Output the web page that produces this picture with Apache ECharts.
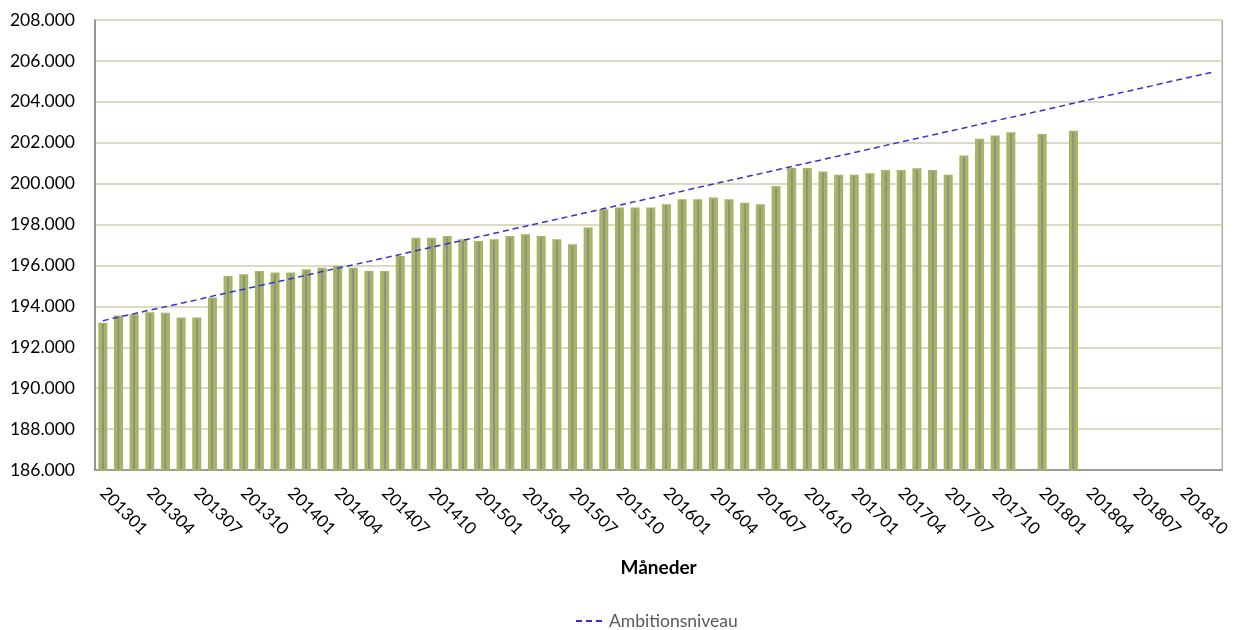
<!DOCTYPE html>
<html>
<head>
    <meta http-equiv="Content-Type" content="text/html; charset=UTF-8">
    <title>Måneder</title>
    <script src="https://cdn.jsdelivr.net/npm/echarts@6/dist/echarts.min.js"></script>
</head>
<body style="margin:0;background:#fff;">
    <div id="main" style="width:1233px;height:630px;"></div>

    <script type="text/javascript">
        // kategorier: 201301 .. 201812
        var maaneder = [];
        ['2013', '2014', '2015', '2016', '2017', '2018'].forEach(function (aar) {
            ['01', '02', '03', '04', '05', '06', '07', '08', '09', '10', '11', '12'].forEach(function (m) {
                maaneder.push(aar + m);
            });
        });

        // faktisk antal (søjler), null = ingen data
        var faktisk = [
            193200, 193550, 193610, 193710, 193690, 193450, 193450, 194430, 195490, 195570, 195730, 195650,
            195650, 195810, 195890, 195980, 195890, 195730, 195730, 196460, 197350, 197360, 197440, 197280,
            197200, 197280, 197440, 197520, 197440, 197280, 197040, 197850, 198750, 198830, 198830, 198830,
            198990, 199240, 199240, 199320, 199240, 199070, 198990, 199890, 200780, 200770, 200590, 200430,
            200430, 200510, 200670, 200670, 200750, 200670, 200430, 201370, 202190, 202350, 202510, null,
            202430, null, 202590, null, null, null, null, null, null, null, null, null
        ];

        // Ambitionsniveau (stiplet linje)
        var ambition = [
            193300, 193470, 193640, 193820, 193980, 194150, 194320, 194500, 194670, 194840, 195010, 195180,
            195350, 195520, 195700, 195870, 196030, 196200, 196370, 196540, 196720, 196890, 197060, 197230,
            197400, 197570, 197750, 197920, 198090, 198260, 198430, 198600, 198780, 198950, 199120, 199290,
            199460, 199630, 199810, 199980, 200150, 200320, 200490, 200660, 200840, 201010, 201180, 201350,
            201520, 201690, 201870, 202040, 202210, 202380, 202550, 202720, 202900, 203070, 203240, 203410,
            203580, 203750, 203930, 204100, 204270, 204440, 204610, 204780, 204960, 205130, 205300, 205470
        ];

        function tusind(v) {
            return String(v).replace(/\B(?=(\d{3})+(?!\d))/g, '.');
        }

        var font = 'Lato, "Open Sans", sans-serif';
        var myChart = echarts.init(document.getElementById('main'));
        myChart.setOption({
            animation: false,
            textStyle: { fontFamily: font },
            grid: {
                left: 95, right: 9, top: 20, bottom: 160,
                show: true, borderColor: '#868686', borderWidth: 1
            },
            legend: {
                bottom: -5,
                left: 570,
                data: ['Ambitionsniveau'],
                itemWidth: 28,
                itemHeight: 2,
                itemGap: 8,
                textStyle: { color: '#595959', fontSize: 17.5, fontFamily: font }
            },
            xAxis: {
                type: 'category',
                data: maaneder,
                name: 'Måneder',
                nameLocation: 'middle',
                nameGap: 88,
                nameTextStyle: { fontWeight: 'bold', fontSize: 19, color: '#000' },
                axisLine: { lineStyle: { color: '#868686', width: 1.5 } },
                axisTick: { alignWithLabel: true, interval: 0, length: 5, lineStyle: { color: '#868686' } },
                axisLabel: { interval: 2, rotate: -45, color: '#000', fontSize: 17, margin: 20 }
            },
            yAxis: {
                type: 'value',
                min: 186000,
                max: 208000,
                interval: 2000,
                axisLine: { show: true, lineStyle: { color: '#868686', width: 1.5 } },
                axisTick: { show: false },
                axisLabel: { color: '#000', fontSize: 17.5, margin: 20, formatter: tusind },
                splitLine: { lineStyle: { color: '#DED8C4', width: 2 } }
            },
            series: [{
                name: 'Antal',
                type: 'bar',
                data: faktisk,
                barWidth: 9,
                itemStyle: {
                    color: new echarts.graphic.LinearGradient(0, 0, 1, 0, [
                        { offset: 0, color: '#A6B55F' },
                        { offset: 0.38, color: '#A6B55F' },
                        { offset: 0.4, color: '#8E8E8E' },
                        { offset: 0.6, color: '#8E8E8E' },
                        { offset: 0.62, color: '#A6B55F' },
                        { offset: 1, color: '#A6B55F' }
                    ]),
                    borderColor: '#A6B55F',
                    borderWidth: 1.5
                }
            }, {
                name: 'Ambitionsniveau',
                type: 'line',
                data: ambition,
                symbol: 'none',
                lineStyle: { color: '#3333CC', width: 1.5, type: [6, 4] },
                itemStyle: { color: '#3333CC' }
            }]
        });
    </script>
</body>
</html>
